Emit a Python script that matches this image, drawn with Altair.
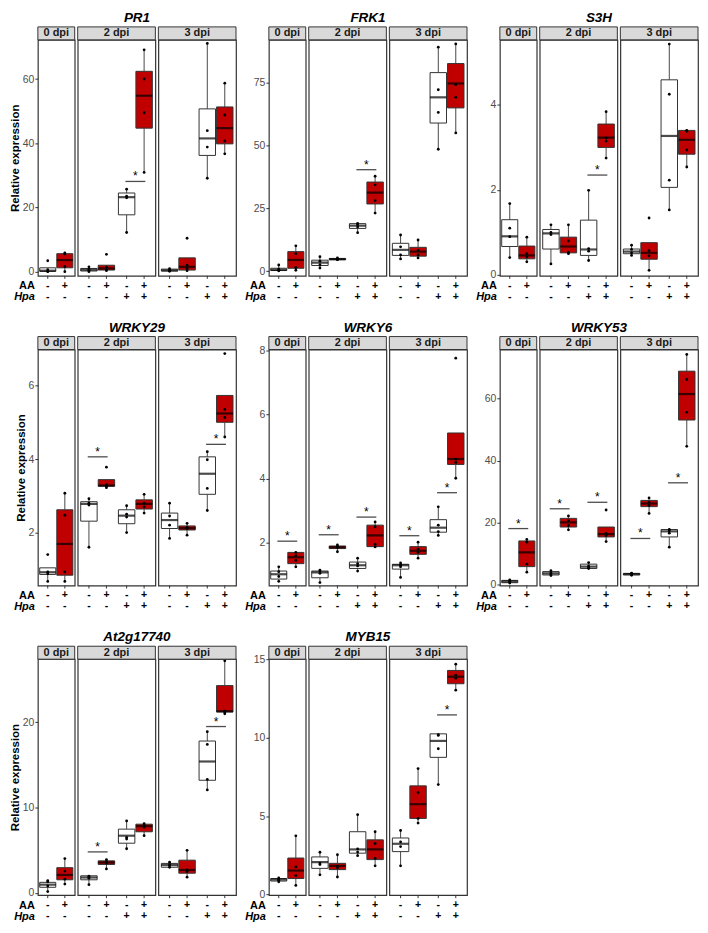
import altair as alt
import pandas as pd

# ---------------- data ----------------
GROUP_DPI = ["0 dpi", "0 dpi", "2 dpi", "2 dpi", "2 dpi", "2 dpi", "3 dpi", "3 dpi", "3 dpi", "3 dpi"]
GROUP_AA = ["-", "+", "-", "+", "-", "+", "-", "+", "-", "+"]
GROUP_HPA = ["-", "-", "-", "-", "+", "+", "-", "-", "+", "+"]
DPIS = ["0 dpi", "2 dpi", "3 dpi"]

# box stats per group: (lower whisker, q1, median, q3, upper whisker)
PR1_BOX = [(0.0, 0.1, 0.3, 1.2, 1.2), (0.0, 1.2, 3.6, 5.6, 5.8), (0.0, 0.2, 0.6, 1.0, 1.5), (0.3, 0.5, 1.0, 2.0, 2.0),
           (12.2, 17.7, 23.2, 24.5, 25.7), (30.9, 44.7, 54.8, 62.4, 69.1), (0.0, 0.2, 0.4, 0.8, 0.9), (0.3, 0.5, 1.5, 4.3, 4.3),
           (29.1, 36.2, 41.5, 50.7, 71.1), (36.7, 39.8, 44.7, 51.3, 58.7)]
PR1_PTS = [[3.4, 0.6, 0.1, 0.0], [5.8, 5.5, 1.6, 0.0], [1.5, 0.7, 0.4, 0.0], [5.4, 1.4, 0.6, 0.3],
           [25.7, 23.5, 23.0, 12.2], [69.1, 60.0, 49.5, 30.9], [0.9, 0.5, 0.3, 0.1], [10.4, 2.0, 1.0, 0.3],
           [71.1, 43.9, 38.8, 29.1], [58.7, 48.8, 40.7, 36.7]]
PR1_SIG = [("2 dpi", "+", 28.1)]
PR1_YDOM = [-1.3, 72.2]
PR1_TICKS = [0, 20, 40, 60]

FRK1_BOX = [(0.2, 0.3, 0.6, 1.2, 2.5), (0.4, 1.2, 4.5, 7.8, 10.1), (1.3, 2.3, 3.4, 4.4, 5.8), (4.6, 4.6, 4.8, 5.1, 5.3),
            (15.3, 17.0, 18.1, 18.9, 19.0), (23.1, 26.7, 31.2, 35.4, 37.7), (4.9, 6.3, 8.5, 11.1, 14.4), (5.3, 6.0, 7.8, 9.5, 12.4),
            (48.4, 58.8, 69.0, 78.8, 88.9), (54.9, 64.8, 74.5, 82.4, 90.2)]
FRK1_PTS = [[2.5, 0.8, 0.4, 0.2], [10.1, 7.0, 1.5, 0.4], [5.8, 4.0, 2.6, 1.3], [5.3, 4.9, 4.7, 4.6],
            [19.0, 18.5, 17.6, 15.3], [37.7, 34.3, 28.0, 23.1], [14.4, 9.7, 6.5, 4.9], [12.4, 8.3, 6.5, 5.3],
            [88.9, 72.0, 63.0, 48.4], [90.2, 74.0, 69.0, 54.9]]
FRK1_SIG = [("2 dpi", "+", 40.3)]
FRK1_YDOM = [-1.8, 91.8]
FRK1_TICKS = [0, 25, 50, 75]

S3H_BOX = [(0.41, 0.67, 0.91, 1.30, 1.68), (0.31, 0.38, 0.46, 0.68, 0.89), (0.26, 0.61, 0.98, 1.07, 1.18), (0.50, 0.52, 0.67, 0.89, 1.18),
           (0.34, 0.46, 0.60, 1.29, 1.99), (2.75, 3.00, 3.23, 3.55, 3.84), (0.46, 0.50, 0.55, 0.61, 0.70), (0.11, 0.37, 0.52, 0.76, 0.76),
           (1.53, 2.06, 3.27, 4.59, 5.43), (2.54, 2.84, 3.18, 3.40, 3.40)]
S3H_PTS = [[1.68, 1.10, 0.90, 0.41], [0.89, 0.50, 0.42, 0.31], [1.18, 1.00, 0.95, 0.26], [1.18, 0.80, 0.53, 0.50],
           [1.99, 0.62, 0.56, 0.34], [3.84, 3.22, 3.15, 2.75], [0.70, 0.60, 0.52, 0.46], [1.34, 0.57, 0.45, 0.11],
           [5.43, 4.25, 2.23, 1.53], [3.40, 3.38, 2.94, 2.54]]
S3H_SIG = [("2 dpi", "+", 2.35)]
S3H_YDOM = [-0.02, 5.53]
S3H_TICKS = [0, 2, 4]

WRKY29_BOX = [(0.67, 0.86, 0.92, 1.04, 1.04), (0.67, 0.84, 1.69, 2.62, 3.07), (1.60, 2.31, 2.78, 2.84, 2.92), (3.22, 3.26, 3.28, 3.44, 3.44),
              (2.00, 2.24, 2.46, 2.62, 2.73), (2.53, 2.64, 2.78, 2.89, 3.04), (1.84, 2.11, 2.34, 2.53, 2.80), (1.93, 2.07, 2.12, 2.18, 2.25),
              (2.60, 3.04, 3.60, 4.06, 4.20), (4.60, 5.00, 5.24, 5.73, 5.73)]
WRKY29_PTS = [[1.40, 0.93, 0.88, 0.67], [3.07, 2.47, 0.93, 0.67], [2.92, 2.80, 2.75, 1.60], [3.78, 3.30, 3.26, 3.22],
              [2.73, 2.50, 2.42, 2.00], [3.04, 2.80, 2.70, 2.53], [2.80, 2.45, 2.20, 1.84], [2.25, 2.14, 2.11, 1.93],
              [4.20, 3.98, 3.20, 2.60], [6.87, 5.35, 5.13, 4.60]]
WRKY29_SIG = [("2 dpi", "-", 4.06), ("3 dpi", "+", 4.40)]
WRKY29_YDOM = [0.56, 6.98]
WRKY29_TICKS = [2, 4, 6]

WRKY6_BOX = [(0.77, 0.87, 1.02, 1.12, 1.25), (1.25, 1.35, 1.55, 1.70, 1.70), (0.76, 0.91, 1.08, 1.12, 1.15), (1.72, 1.82, 1.86, 1.90, 1.93),
             (1.12, 1.20, 1.30, 1.40, 1.52), (1.87, 1.88, 2.23, 2.55, 2.65), (0.92, 1.18, 1.30, 1.33, 1.37), (1.52, 1.64, 1.75, 1.88, 2.02),
             (2.23, 2.33, 2.47, 2.72, 3.12), (4.01, 4.44, 4.61, 5.42, 5.42)]
WRKY6_PTS = [[1.25, 1.10, 0.95, 0.80], [1.70, 1.60, 1.45, 1.25], [1.15, 1.12, 1.05, 0.76], [1.93, 1.88, 1.85, 1.72],
             [1.52, 1.35, 1.28, 1.12], [2.65, 2.50, 1.95, 1.87], [1.37, 1.30, 1.25, 0.92], [2.02, 1.80, 1.70, 1.52],
             [3.12, 2.55, 2.35, 2.23], [7.75, 4.60, 4.50, 4.01]]
WRKY6_SIG = [("0 dpi", "-", 2.05), ("2 dpi", "-", 2.25), ("2 dpi", "+", 2.80), ("3 dpi", "-", 2.22), ("3 dpi", "+", 3.56)]
WRKY6_YDOM = [0.67, 8.02]
WRKY6_TICKS = [2, 4, 6, 8]

WRKY53_BOX = [(0.4, 0.5, 0.9, 1.25, 1.45), (3.9, 5.7, 10.3, 14.0, 14.5), (2.8, 3.0, 3.5, 4.1, 4.4), (17.6, 18.5, 20.0, 21.3, 22.1),
              (5.1, 5.1, 5.7, 6.5, 7.0), (13.8, 15.3, 16.2, 18.5, 18.5), (2.8, 3.0, 3.3, 3.5, 3.7), (22.9, 25.1, 26.1, 27.1, 27.9),
              (12.0, 15.3, 17.1, 17.7, 17.7), (44.6, 53.1, 61.5, 68.9, 74.3)]
WRKY53_PTS = [[1.4, 1.0, 0.8, 0.4], [14.5, 13.6, 6.5, 3.9], [4.4, 3.6, 3.3, 2.8], [22.1, 20.5, 19.0, 17.6],
              [7.0, 5.9, 5.3, 5.1], [24.0, 16.4, 15.8, 13.8], [3.6, 3.4, 3.2, 2.9], [27.9, 26.5, 25.5, 22.9],
              [17.7, 17.3, 16.5, 12.0], [74.3, 66.2, 55.6, 44.6]]
WRKY53_SIG = [("0 dpi", "-", 18.0), ("2 dpi", "-", 24.4), ("2 dpi", "+", 26.5), ("3 dpi", "-", 14.8), ("3 dpi", "+", 32.8)]
WRKY53_YDOM = [-0.4, 75.9]
WRKY53_TICKS = [0, 20, 40, 60]

AT2G_BOX = [(0.15, 0.65, 0.96, 1.23, 1.42), (1.03, 1.53, 2.10, 2.95, 4.02), (0.96, 1.53, 1.80, 2.00, 2.00), (2.80, 3.33, 3.56, 3.75, 3.90),
            (5.17, 5.82, 6.70, 7.47, 8.43), (6.70, 7.16, 7.82, 8.05, 8.10), (3.00, 3.00, 3.26, 3.45, 3.64), (1.84, 2.30, 2.68, 3.83, 4.98),
            (12.07, 13.20, 15.40, 17.80, 18.90), (21.00, 21.20, 21.30, 24.30, 27.20)]
AT2G_PTS = [[1.42, 1.30, 0.80, 0.15], [4.02, 2.55, 1.60, 1.03], [1.95, 1.85, 1.70, 0.96], [3.90, 3.70, 3.50, 2.80],
            [8.43, 6.50, 6.30, 5.17], [8.10, 7.90, 7.70, 6.70], [3.60, 3.30, 3.20, 3.00], [4.98, 2.70, 2.50, 1.84],
            [18.90, 17.40, 13.30, 12.07], [27.20, 21.30, 21.20, 21.00]]
AT2G_SIG = [("2 dpi", "-", 4.8), ("3 dpi", "+", 19.5)]
AT2G_YDOM = [-0.27, 27.4]
AT2G_TICKS = [0, 10, 20]

MYB15_BOX = [(0.80, 0.85, 0.95, 1.01, 1.10), (0.57, 1.01, 1.52, 2.32, 3.74), (1.25, 1.66, 2.06, 2.39, 2.69), (1.11, 1.58, 1.82, 1.98, 2.53),
             (2.47, 2.63, 2.87, 4.00, 5.09), (1.82, 2.22, 2.87, 3.48, 4.00), (1.82, 2.73, 3.23, 3.60, 4.08), (4.55, 4.85, 5.76, 6.93, 8.03),
             (7.01, 8.75, 9.80, 10.25, 10.25), (13.04, 13.45, 13.90, 14.30, 14.70)]
MYB15_PTS = [[1.05, 0.95, 0.90, 0.80], [3.74, 1.75, 1.20, 0.57], [2.69, 2.00, 1.90, 1.25], [2.53, 1.80, 1.70, 1.11],
             [5.09, 2.90, 2.70, 2.47], [4.00, 3.25, 2.30, 1.82], [4.08, 3.35, 3.05, 1.82], [8.03, 6.50, 4.85, 4.55],
             [10.20, 10.15, 9.30, 7.01], [14.70, 14.00, 13.80, 13.04]]
MYB15_SIG = [("3 dpi", "+", 11.46)]
MYB15_YDOM = [-0.05, 15.02]
MYB15_TICKS = [0, 5, 10, 15]

# ---------------- layout / style ----------------
H = 237
W = {"0 dpi": 37, "2 dpi": 78, "3 dpi": 78}
PO = {"0 dpi": 0.05, "2 dpi": 0.08, "3 dpi": 0.08}
FACET_SP = 3
GENE_SP = 33
ROW_SP = 74
RED = "#c00000"
EDGE = "#333333"
FONT = "Liberation Sans"
GENE_W = W["0 dpi"] + W["2 dpi"] + W["3 dpi"] + 2 * FACET_SP
LAB_FS = 10.5
ROW1_Y = H + 10
ROW2_Y = H + 21


def box_width(dpi):
    n = 1 if dpi == "0 dpi" else 2
    step = W[dpi] / (n - 0.1 + 2 * PO[dpi])
    band = step * 0.9
    ostep = band / (2 - 0.06)
    return ostep * 0.94


def facet(gene, dpi, box, pts, sig, ydom, ticks, first, ytitle):
    w = W[dpi]
    idx = [i for i, d in enumerate(GROUP_DPI) if d == dpi]
    gdf = pd.DataFrame({
        "AA": [GROUP_AA[i] for i in idx],
        "Hpa": [GROUP_HPA[i] for i in idx],
        "lo": [box[i][0] for i in idx],
        "q1": [box[i][1] for i in idx],
        "med": [box[i][2] for i in idx],
        "q3": [box[i][3] for i in idx],
        "hi": [box[i][4] for i in idx],
    })
    prow = []
    for i in idx:
        for v in pts[i]:
            prow.append({"AA": GROUP_AA[i], "Hpa": GROUP_HPA[i], "value": v})
    pdf = pd.DataFrame(prow)
    sdf = pd.DataFrame([{"Hpa": s[1], "y": s[2]} for s in sig if s[0] == dpi])

    hpa_dom = ["-"] if dpi == "0 dpi" else ["-", "+"]
    X = alt.X("Hpa:N", scale=alt.Scale(domain=hpa_dom, paddingInner=0.1, paddingOuter=PO[dpi]), axis=None)
    XO = alt.XOffset("AA:N", scale=alt.Scale(domain=["-", "+"], paddingInner=0.06, paddingOuter=0))
    ys = alt.Scale(domain=ydom, nice=False, zero=False)
    if first:
        if ytitle:
            yax = alt.Axis(values=ticks, title="Relative expression", titleFontWeight="bold", titleFontSize=11.5,
                           titleColor="black", titlePadding=2)
        else:
            yax = alt.Axis(values=ticks, title=None)
    else:
        yax = None

    def Y(field):
        return alt.Y(field, scale=ys, axis=yax)

    base = alt.Chart(gdf)
    layers = [
        base.mark_rule(color=EDGE, strokeWidth=0.9).encode(x=X, xOffset=XO, y=Y("lo:Q"), y2="q1:Q"),
        base.mark_rule(color=EDGE, strokeWidth=0.9).encode(x=X, xOffset=XO, y=Y("q3:Q"), y2="hi:Q"),
        base.mark_bar(stroke=EDGE, strokeWidth=1).encode(
            x=X, xOffset=XO, y=Y("q1:Q"), y2="q3:Q",
            fill=alt.Fill("AA:N", scale=alt.Scale(domain=["-", "+"], range=["white", RED]), legend=None)),
        base.mark_tick(orient="horizontal", size=box_width(dpi), thickness=2.2, color="black").encode(
            x=X, xOffset=XO, y=Y("med:Q")),
        alt.Chart(pdf).mark_circle(size=8, color="black", opacity=1).encode(x=X, xOffset=XO, y=Y("value:Q")),
        # x ticks and +/- labels
        base.mark_rule(color=EDGE).encode(x=X, xOffset=XO, y=alt.value(H), y2=alt.value(H + 3)),
        base.mark_text(fontSize=LAB_FS, fontWeight="bold", color="black", font=FONT, baseline="middle").encode(
            x=X, xOffset=XO, y=alt.value(ROW1_Y), text="AA:N"),
        base.mark_text(fontSize=LAB_FS, fontWeight="bold", color="black", font=FONT, baseline="middle").encode(
            x=X, xOffset=XO, y=alt.value(ROW2_Y), text="Hpa:N"),
    ]
    if len(sdf):
        sb = alt.Chart(sdf)
        layers.append(sb.mark_tick(orient="horizontal", size=20, thickness=1.3, color="black").encode(x=X, y=Y("y:Q")))
        layers.append(sb.mark_text(text="*", dy=-5, fontSize=12, color="black", font=FONT).encode(x=X, y=Y("y:Q")))

    one = pd.DataFrame({"k": [dpi]})
    ob = alt.Chart(one)
    layers.append(ob.mark_rect(fill="#d9d9d9", stroke=EDGE, strokeWidth=1).encode(
        x=alt.value(0), x2=alt.value(w), y=alt.value(-13), y2=alt.value(0)))
    layers.append(ob.mark_text(fontSize=11, fontWeight="bold", color="#1a1a1a", font=FONT, baseline="middle").encode(
        x=alt.value(w / 2), y=alt.value(-6.5), text="k:N"))
    if first:
        lab = pd.DataFrame({"t": ["AA"]})
        layers.append(alt.Chart(lab).mark_text(fontSize=11, fontWeight="bold", align="right", color="black",
                                               font=FONT, baseline="middle").encode(
            x=alt.value(-3), y=alt.value(ROW1_Y + 0.5), text="t:N"))
        lab2 = pd.DataFrame({"t": ["Hpa"]})
        layers.append(alt.Chart(lab2).mark_text(fontSize=11, fontWeight="bold", fontStyle="italic", align="right",
                                                color="black", font=FONT, baseline="middle").encode(
            x=alt.value(-3), y=alt.value(ROW2_Y + 0.5), text="t:N"))
    if dpi == "2 dpi":
        tl = pd.DataFrame({"t": [gene]})
        cx = GENE_W / 2 - W["0 dpi"] - FACET_SP
        layers.append(alt.Chart(tl).mark_text(fontSize=13.5, fontWeight="bold", fontStyle="italic", color="black",
                                              font=FONT, baseline="middle").encode(
            x=alt.value(cx), y=alt.value(-22), text="t:N"))
    return alt.layer(*layers).properties(width=w, height=H)


def spacer():
    return alt.Chart(pd.DataFrame({"a": [0]})).mark_point(opacity=0).encode(
        x=alt.value(0), y=alt.value(0)
    ).properties(width=GENE_SP - 2 * FACET_SP, height=H, view=alt.ViewBackground(strokeOpacity=0, fillOpacity=0))


GENES = [
    ("PR1", PR1_BOX, PR1_PTS, PR1_SIG, PR1_YDOM, PR1_TICKS),
    ("FRK1", FRK1_BOX, FRK1_PTS, FRK1_SIG, FRK1_YDOM, FRK1_TICKS),
    ("S3H", S3H_BOX, S3H_PTS, S3H_SIG, S3H_YDOM, S3H_TICKS),
    ("WRKY29", WRKY29_BOX, WRKY29_PTS, WRKY29_SIG, WRKY29_YDOM, WRKY29_TICKS),
    ("WRKY6", WRKY6_BOX, WRKY6_PTS, WRKY6_SIG, WRKY6_YDOM, WRKY6_TICKS),
    ("WRKY53", WRKY53_BOX, WRKY53_PTS, WRKY53_SIG, WRKY53_YDOM, WRKY53_TICKS),
    ("At2g17740", AT2G_BOX, AT2G_PTS, AT2G_SIG, AT2G_YDOM, AT2G_TICKS),
    ("MYB15", MYB15_BOX, MYB15_PTS, MYB15_SIG, MYB15_YDOM, MYB15_TICKS),
]

views = []
for gi, (name, box, pts, sig, ydom, ticks) in enumerate(GENES):
    col = gi % 3
    if col > 0:
        views.append(spacer())
    for d in DPIS:
        views.append(facet(name, d, box, pts, sig, ydom, ticks, d == "0 dpi", col == 0))

chart = alt.concat(*views, columns=11, spacing={"row": ROW_SP, "column": FACET_SP}, bounds="flush").resolve_scale(
    x="independent", y="independent", xOffset="independent", fill="shared"
).properties(padding=0, background="white").configure_view(
    stroke=EDGE, strokeWidth=1.2, fill="white"
).configure_axis(
    grid=False, domain=False, tickColor=EDGE, tickSize=3, labelColor="#4d4d4d", labelFontSize=10.5,
    labelPadding=1, labelFont=FONT, titleFont=FONT
).configure_text(font=FONT)

chart.save("out.html", embed_options={"renderer": "svg", "actions": False})
